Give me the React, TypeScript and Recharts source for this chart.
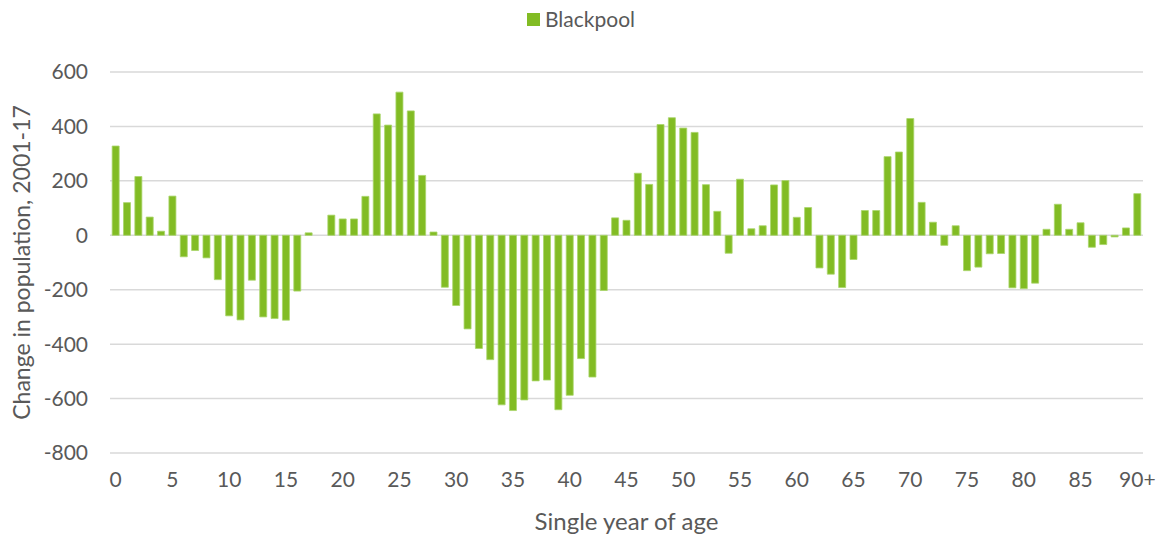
import { BarChart, Bar, XAxis, YAxis, CartesianGrid, Label } from "recharts";

// single year of age 0..89, then 90+
const ages = [
  "0", "1", "2", "3", "4", "5", "6", "7", "8", "9",
  "10", "11", "12", "13", "14", "15", "16", "17", "18", "19",
  "20", "21", "22", "23", "24", "25", "26", "27", "28", "29",
  "30", "31", "32", "33", "34", "35", "36", "37", "38", "39",
  "40", "41", "42", "43", "44", "45", "46", "47", "48", "49",
  "50", "51", "52", "53", "54", "55", "56", "57", "58", "59",
  "60", "61", "62", "63", "64", "65", "66", "67", "68", "69",
  "70", "71", "72", "73", "74", "75", "76", "77", "78", "79",
  "80", "81", "82", "83", "84", "85", "86", "87", "88", "89",
  "90+",
];

// change in population 2001-17, Blackpool
const blackpool = [
  328, 120, 216, 67, 15, 144, -79, -56, -83, -163,
  -296, -311, -165, -300, -306, -312, -205, 9, 0, 74,
  60, 60, 143, 446, 405, 526, 457, 220, 12, -191,
  -258, -344, -416, -457, -623, -644, -605, -535, -532, -641,
  -588, -453, -521, -203, 64, 55, 228, 187, 407, 432,
  394, 378, 186, 88, -66, 206, 24, 35, 185, 201,
  66, 102, -120, -143, -192, -89, 91, 91, 289, 306,
  429, 121, 48, -37, 35, -130, -117, -68, -67, -193,
  -196, -176, 22, 114, 22, 46, -44, -34, -6, 27,
  153,
];

const yTicks = [-800, -600, -400, -200, 0, 200, 400, 600];

const data = ages.map((age, i) => ({ age, value: blackpool[i] }));

const FONT = "Lato, 'Open Sans', sans-serif";
const TEXT = "#595959";
const GREEN = "#82BC24";

export default function App() {
  return (
    <div style={{ position: "absolute", left: 0, top: 0, width: 1162, height: 538, fontFamily: FONT }}>
      {/* legend */}
      <div
        style={{
          position: "absolute",
          top: 6,
          left: 0,
          width: 1162,
          display: "flex",
          justifyContent: "center",
          alignItems: "center",
          fontSize: 21,
          lineHeight: "26px",
          color: TEXT,
        }}
      >
        <span
          style={{
            display: "inline-block",
            width: 13,
            height: 13,
            background: GREEN,
            marginRight: 5,
          }}
        />
        Blackpool
      </div>
      <BarChart
        width={1162}
        height={538}
        data={data}
        margin={{ top: 72, right: 19, bottom: 0, left: 0 }}
        barCategoryGap="19%"
      >
        <CartesianGrid vertical={false} stroke="#d9d9d9" strokeWidth={1.5} />
        <XAxis
          dataKey="age"
          interval={4}
          axisLine={false}
          tickLine={false}
          height={85}
          tickMargin={13}
          tick={{ fill: TEXT, fontSize: 21, fontFamily: FONT }}
        >
          <Label
            value="Single year of age"
            position="insideBottom"
            offset={8}
            style={{ fill: TEXT, fontSize: 24, fontFamily: FONT }}
          />
        </XAxis>
        <YAxis
          domain={[-800, 600]}
          ticks={yTicks}
          interval={0}
          axisLine={false}
          tickLine={false}
          width={110}
          tickMargin={16}
          tick={{ fill: TEXT, fontSize: 21, fontFamily: FONT }}
        >
          <Label
            content={({ viewBox }: any) => {
              const cy = viewBox.y + viewBox.height / 2;
              return (
                <text
                  x={21}
                  y={cy}
                  transform={`rotate(-90, 21, ${cy})`}
                  textAnchor="middle"
                  dominantBaseline="central"
                  fill={TEXT}
                  fontSize={23}
                  fontFamily={FONT}
                >
                  Change in population, 2001-17
                </text>
              );
            }}
          />
        </YAxis>
        <Bar
          dataKey="value"
          name="Blackpool"
          fill={GREEN}
          stroke="#a9d66b"
          strokeWidth={0.8}
          isAnimationActive={false}
        />
      </BarChart>
    </div>
  );
}
